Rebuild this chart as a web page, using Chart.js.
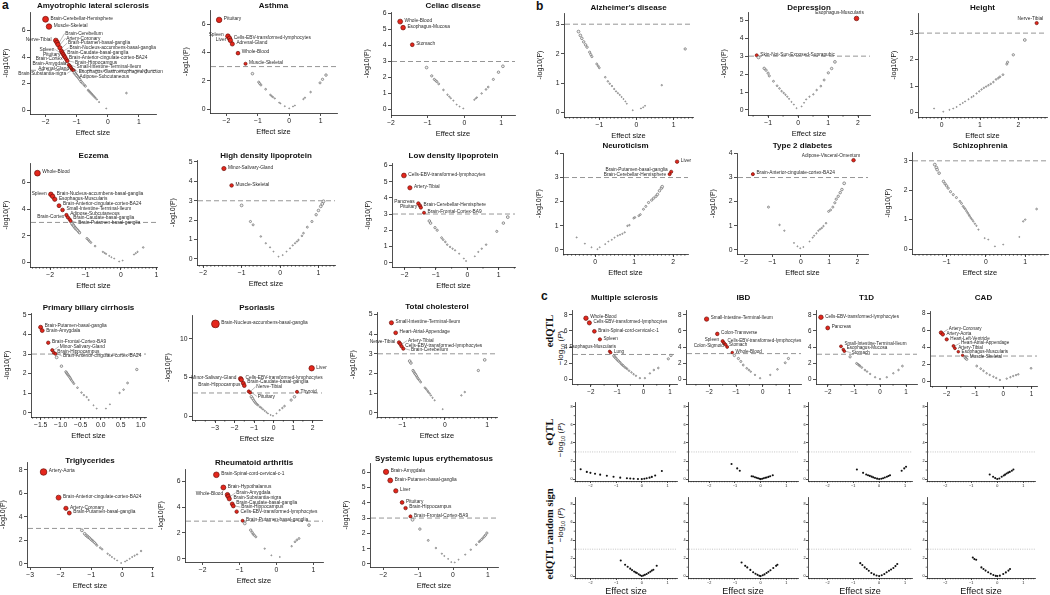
<!DOCTYPE html>
<html>
<head>
<meta charset="utf-8">
<title>Volcano plots</title>
<script src="https://cdn.jsdelivr.net/npm/chart.js@4.4.1/dist/chart.umd.min.js"></script>
<style>
  html, body { margin: 0; padding: 0; background: #fff; }
  body { position: relative; width: 1050px; height: 595px; overflow: hidden; font-family: "Liberation Sans", Arial, sans-serif; color: #111; }
  canvas { position: absolute; }
  .tag { position: absolute; font-weight: bold; font-size: 12px; }
  .rot { position: absolute; white-space: nowrap; transform: translate(-50%, -50%) rotate(-90deg); }
  .row { font-family: "Liberation Serif", "DejaVu Serif", serif; font-weight: bold; font-size: 10.5px; }
  .lg { font-size: 8px; }
  .lg sub { font-size: 5.5px; }
</style>
</head>
<body>
<div class="tag" style="left:2px;top:-2px">a</div>
<div class="tag" style="left:536px;top:-1px">b</div>
<div class="tag" style="left:541px;top:289px">c</div>
<div class="rot row" style="left:549px;top:331px">edQTL</div>
<div class="rot lg" style="left:561px;top:348px">−log<sub>10</sub> (<i>P</i>)</div>
<div class="rot row" style="left:549px;top:432px">eQTL</div>
<div class="rot lg" style="left:561px;top:440px">−log<sub>10</sub> (<i>P</i>)</div>
<div class="rot row" style="left:549px;top:534px">edQTL random sign</div>
<div class="rot lg" style="left:561px;top:525px">−log<sub>10</sub> (<i>P</i>)</div>
<script>
// ---- tick values and titles ----
var xTicksInt = [-3, -2, -1, 0, 1, 2];
var xTicksHalf = [-1.5, -1, -0.5, 0, 0.5, 1];
var yTicks1 = [0, 1, 2, 3, 4, 5, 6];
var yTicks2 = [0, 2, 4, 6, 8];
var yTicks5 = [0, 5, 10];

var titlesA = ["Amyotrophic lateral sclerosis", "Asthma", "Celiac disease", "Eczema",
  "High density lipoprotein", "Low density lipoprotein", "Primary biliary cirrhosis",
  "Psoriasis", "Total cholesterol", "Triglycerides", "Rheumatoid arthritis",
  "Systemic lupus erythematosus"];
var titlesB = ["Alzheimer's disease", "Depression", "Height", "Neuroticism", "Type 2 diabetes", "Schizophrenia"];
var titlesC = ["Multiple sclerosis", "IBD", "T1D", "CAD"];

// ---- panel a ----
var alsHits = [[-2.0, 6.85, "Brain-Cerebellar-Hemisphere"], [-1.89, 6.3, "Muscle-Skeletal"],
  [-1.67, 5.25, "Nerve-Tibial"], [-1.63, 5.1, "Brain-Cerebellum"], [-1.6, 4.95, "Artery-Coronary"],
  [-1.54, 4.7, "Brain-Putamen-basal-ganglia"], [-1.49, 4.45, "Brain-Nucleus-accumbens-basal-ganglia"],
  [-1.46, 4.32, "Spleen"], [-1.43, 4.2, "Brain-Caudate-basal-ganglia"], [-1.4, 4.08, "Pituitary"],
  [-1.37, 3.97, "Brain-Anterior-cingulate-cortex-BA24"], [-1.33, 3.82, "Brain-Cortex"],
  [-1.3, 3.7, "Brain-Hippocampus"], [-1.25, 3.4, "Small-Intestine-Terminal-Ileum"],
  [-1.21, 3.3, "Brain-Amygdala"], [-1.18, 3.18, "Esophagus-Gastroesophageal-Junction"],
  [-1.15, 3.08, "Adipose-Subcutaneous"], [-1.13, 3.02, "Adrenal-Gland"], [-1.1, 3.0, "Brain-Substantia-nigra"]];
var alsRest = [[-1.07, 2.8], [-1.03, 2.7], [-1.0, 2.6], [-0.96, 2.5], [-0.93, 2.4], [-0.9, 2.3], [-0.86, 2.15],
  [-0.82, 2.05], [-0.76, 1.9], [-0.72, 1.8], [-0.63, 1.5], [-0.6, 1.42], [-0.57, 1.35], [-0.54, 1.27],
  [-0.51, 1.2], [-0.48, 1.12], [-0.45, 1.05], [-0.42, 0.97], [-0.39, 0.9], [-0.35, 0.8], [-0.28, 0.6],
  [-0.05, 0.12], [0.6, 1.28], [1.22, 2.9]];

var asthmaHits = [[-2.23, 6.3, "Pituitary"], [-1.95, 5.15, "Spleen"], [-1.9, 5.0, "Cells-EBV-transformed-lymphocytes"],
  [-1.87, 4.85, "Liver"], [-1.81, 4.6, "Adrenal-Gland"], [-1.63, 3.95, "Whole-Blood"], [-1.39, 3.2, "Muscle-Skeletal"]];
var asthmaRest = [[-1.17, 2.5], [-0.97, 1.9], [-0.94, 1.8], [-0.9, 1.7], [-0.75, 1.4], [-0.6, 1.0], [-0.56, 0.92],
  [-0.52, 0.85], [-0.46, 0.75], [-0.32, 0.45], [-0.28, 0.4], [-0.14, 0.2], [0.0, 0.05], [0.12, 0.18], [0.18, 0.25],
  [0.45, 0.7], [0.5, 0.8], [0.68, 1.2], [0.98, 1.85], [1.06, 2.1], [1.17, 2.4]];

var celiacHits = [[-1.75, 5.5, "Whole-Blood"], [-1.67, 5.12, "Esophagus-Mucosa"], [-1.42, 4.05, "Stomach"]];
var celiacRest = [[-1.03, 2.62], [-0.89, 2.1], [-0.82, 1.88], [-0.78, 1.8], [-0.75, 1.74], [-0.7, 1.6], [-0.57, 1.22],
  [-0.46, 0.92], [-0.41, 0.8], [-0.37, 0.7], [-0.3, 0.55], [-0.21, 0.3], [-0.13, 0.18], [-0.03, 0.06], [0.27, 0.6],
  [0.31, 0.68], [0.34, 0.75], [0.47, 1.0], [0.59, 1.25], [0.65, 1.4], [0.79, 1.88], [0.93, 2.33], [1.05, 2.7]];

var eczemaHits = [[-2.36, 6.68, "Whole-Blood"], [-1.98, 5.1, "Spleen"], [-1.93, 4.95, "Brain-Nucleus-accumbens-basal-ganglia"],
  [-1.87, 4.73, "Esophagus-Muscularis"], [-1.75, 4.25, "Brain-Anterior-cingulate-cortex-BA24"],
  [-1.65, 3.93, "Small-Intestine-Terminal-Ileum"], [-1.54, 3.55, "Adipose-Subcutaneous"], [-1.5, 3.38, "Brain-Cortex"],
  [-1.45, 3.23, "Brain-Caudate-basal-ganglia"], [-1.42, 3.1, "Brain-Putamen-basal-ganglia"]];
var eczemaRest = [[-1.38, 2.9], [-1.35, 2.8], [-1.33, 2.72], [-1.3, 2.62], [-1.28, 2.55], [-1.25, 2.48], [-1.22, 2.4],
  [-1.19, 2.3], [-1.17, 2.23], [-0.96, 1.8], [-0.92, 1.7], [-0.89, 1.6], [-0.85, 1.5], [-0.73, 1.23], [-0.51, 0.8],
  [-0.46, 0.72], [-0.42, 0.65], [-0.33, 0.5], [-0.27, 0.4], [-0.19, 0.3], [-0.05, 0.08], [0.05, 0.15], [0.37, 0.6],
  [0.42, 0.7], [0.47, 0.8], [0.63, 1.13]];

var hdlHits = [[-1.46, 4.66, "Minor-Salivary-Gland"], [-1.26, 3.79, "Muscle-Skeletal"]];
var hdlRest = [[-1.0, 2.76], [-0.77, 1.93], [-0.7, 1.76], [-0.5, 1.16], [-0.37, 0.81], [-0.26, 0.6], [-0.17, 0.38],
  [-0.04, 0.12], [0.07, 0.2], [0.17, 0.38], [0.26, 0.55], [0.33, 0.7], [0.39, 0.81], [0.44, 0.9], [0.48, 0.98],
  [0.57, 1.19], [0.61, 1.33], [0.71, 1.64], [0.83, 1.93], [0.94, 2.28], [1.0, 2.5], [1.06, 2.71], [1.1, 2.84], [1.13, 2.97]];

var ldlHits = [[-2.02, 5.38, "Cells-EBV-transformed-lymphocytes"], [-1.83, 4.62, "Artery-Tibial"], [-1.56, 3.65, "Pancreas"],
  [-1.51, 3.52, "Brain-Cerebellar-Hemisphere"], [-1.48, 3.4, "Pituitary"], [-1.38, 3.08, "Brain-Frontal-Cortex-BA9"]];
var ldlRest = [[-1.21, 2.57], [-1.17, 2.44], [-1.03, 2.16], [-0.96, 2.0], [-0.82, 1.54], [-0.77, 1.42], [-0.7, 1.28],
  [-0.64, 1.11], [-0.55, 0.97], [-0.47, 0.86], [-0.39, 0.76], [-0.26, 0.55], [-0.11, 0.25], [-0.04, 0.1], [0.24, 0.39],
  [0.35, 0.66], [0.46, 0.86], [0.6, 1.11], [0.94, 1.93], [1.15, 2.44], [1.29, 2.81]];

var pbcHits = [[-1.5, 4.37, "Brain-Putamen-basal-ganglia"], [-1.46, 4.2, "Brain-Amygdala"], [-1.31, 3.58, "Brain-Frontal-Cortex-BA9"],
  [-1.21, 3.2, "Minor-Salivary-Gland"], [-1.17, 3.07, "Brain-Hippocampus"], [-1.13, 3.01, "Brain-Anterior-cingulate-cortex-BA24"]];
var pbcRest = [[-1.1, 2.83], [-0.98, 2.38], [-0.87, 2.09], [-0.85, 2.03], [-0.83, 1.97], [-0.81, 1.92], [-0.79, 1.86],
  [-0.77, 1.8], [-0.75, 1.73], [-0.73, 1.66], [-0.7, 1.58], [-0.67, 1.49], [-0.58, 1.28], [-0.48, 1.03], [-0.42, 0.9],
  [-0.35, 0.8], [-0.3, 0.65], [-0.18, 0.38], [-0.1, 0.21], [0.13, 0.21], [0.23, 0.43], [0.47, 1.01], [0.57, 1.18],
  [0.67, 1.52], [0.9, 2.21]];

var psoHits = [[-2.98, 11.95, "Brain-Nucleus-accumbens-basal-ganglia"], [-1.69, 4.85, "Minor-Salivary-Gland"],
  [-1.65, 4.7, "Cells-EBV-transformed-lymphocytes"], [-1.55, 4.25, "Brain-Caudate-basal-ganglia"],
  [-1.5, 3.95, "Brain-Hippocampus"], [-1.27, 3.2, "Nerve-Tibial"], [-1.2, 3.05, "Pituitary"],
  [1.95, 6.2, "Liver"], [1.2, 3.15, "Thyroid"]];
var psoRest = [[-1.14, 2.51], [-1.08, 2.3], [-1.02, 2.05], [-0.97, 1.86], [-0.92, 1.7], [-0.86, 1.55], [-0.8, 1.43],
  [-0.7, 1.2], [-0.62, 1.05], [-0.54, 0.87], [-0.45, 0.68], [-0.36, 0.5], [-0.29, 0.35], [-0.15, 0.15], [-0.03, 0.04],
  [0.15, 0.35], [0.31, 0.78], [0.45, 1.05], [0.56, 1.3], [0.9, 2.08], [1.07, 2.51]];

var tcHits = [[-1.26, 4.58, "Small-Intestine-Terminal-Ileum"], [-1.16, 4.07, "Heart-Atrial-Appendage"],
  [-1.08, 3.58, "Nerve-Tibial"], [-1.05, 3.5, "Artery-Tibial"], [-1.02, 3.38, "Cells-EBV-transformed-lymphocytes"],
  [-0.98, 3.26, "Brain-Cerebellum"]];
var tcRest = [[-0.83, 2.63], [-0.8, 2.53], [-0.75, 2.15], [-0.73, 2.08], [-0.71, 2.0], [-0.69, 1.95], [-0.67, 1.88],
  [-0.65, 1.8], [-0.63, 1.73], [-0.6, 1.65], [-0.57, 1.56], [-0.47, 1.27], [-0.44, 1.2], [-0.41, 1.12], [-0.39, 1.05],
  [-0.36, 0.98], [-0.33, 0.88], [-0.29, 0.76], [-0.24, 0.63], [-0.05, 0.18], [0.39, 0.88], [0.47, 1.05], [0.79, 2.15], [0.94, 2.69]];

var trigHits = [[-2.56, 7.8, "Artery-Aorta"], [-2.07, 5.62, "Brain-Anterior-cingulate-cortex-BA24"],
  [-1.83, 4.71, "Artery-Coronary"], [-1.72, 4.31, "Brain-Putamen-basal-ganglia"]];
var trigRest = [[-1.31, 2.84], [-1.22, 2.55], [-1.17, 2.41], [-1.13, 2.33], [-1.1, 2.25], [-1.06, 2.18], [-1.02, 2.08],
  [-0.98, 1.99], [-0.94, 1.9], [-0.9, 1.8], [-0.86, 1.7], [-0.82, 1.56], [-0.71, 1.36], [-0.65, 1.23], [-0.47, 0.85],
  [-0.4, 0.72], [-0.33, 0.57], [-0.25, 0.42], [-0.16, 0.28], [-0.03, 0.06], [0.1, 0.18], [0.16, 0.28], [0.25, 0.42],
  [0.33, 0.57], [0.41, 0.68], [0.49, 0.79], [0.62, 1.08]];

var raHits = [[-1.63, 6.53, "Brain-Spinal-cord-cervical-c-1"], [-1.44, 5.54, "Brain-Hypothalamus"], [-1.33, 4.98, "Whole-Blood"],
  [-1.31, 4.85, "Brain-Amygdala"], [-1.28, 4.66, "Brain-Substantia-nigra"], [-1.2, 4.26, "Brain-Caudate-basal-ganglia"],
  [-1.17, 4.1, "Brain-Hippocampus"], [-1.08, 3.66, "Cells-EBV-transformed-lymphocytes"], [-0.92, 2.95, "Brain-Putamen-basal-ganglia"]];
var raRest = [[-0.86, 2.74], [-0.7, 2.22], [-0.66, 2.05], [-0.63, 1.91], [-0.6, 1.82], [-0.56, 1.7], [-0.32, 0.78],
  [-0.14, 0.26], [0.09, 0.13], [0.41, 0.97], [0.5, 1.31], [0.55, 1.45], [0.61, 1.57], [0.88, 2.61]];

var sleHits = [[-1.92, 6.02, "Brain-Amygdala"], [-1.8, 5.46, "Brain-Putamen-basal-ganglia"], [-1.64, 4.78, "Liver"],
  [-1.46, 4.02, "Pituitary"], [-1.36, 3.65, "Brain-Hippocampus"], [-1.22, 3.11, "Brain-Frontal-Cortex-BA9"]];
var sleRest = [[-1.16, 2.89], [-0.95, 2.28], [-0.71, 1.54], [-0.49, 1.04], [-0.32, 0.67], [-0.25, 0.52], [-0.14, 0.33],
  [-0.05, 0.12], [0.05, 0.1], [0.16, 0.28], [0.35, 0.61], [0.51, 0.93], [0.67, 1.26], [0.75, 1.45], [0.78, 1.52],
  [0.82, 1.6], [0.86, 1.7], [0.9, 1.8], [0.93, 1.88], [0.97, 2.02]];

// ---- panel b ----
var alzRest = [[-1.56, 2.75], [-1.51, 2.62], [-1.47, 2.52], [-1.42, 2.4], [-1.37, 2.3], [-1.33, 2.22], [-1.26, 2.05],
  [-1.23, 1.97], [-1.2, 1.9], [-1.07, 1.65], [-1.03, 1.58], [-1.0, 1.52], [-0.84, 1.2], [-0.77, 1.06], [-0.72, 0.98],
  [-0.66, 0.9], [-0.6, 0.8], [-0.55, 0.72], [-0.5, 0.66], [-0.45, 0.6], [-0.4, 0.53], [-0.35, 0.46], [-0.3, 0.38],
  [-0.26, 0.3], [-0.1, 0.08], [0.12, 0.14], [0.18, 0.18], [0.23, 0.23], [0.68, 0.93], [1.31, 2.16]];

var depHits = [[-1.38, 3.05, "Skin-Not-Sun-Exposed-Suprapubic"], [1.95, 5.1, "Esophagus-Muscularis"]];
var depRest = [[-1.32, 2.93], [-1.13, 2.32], [-1.07, 2.22], [-1.0, 2.05], [-0.96, 1.9], [-0.82, 1.6], [-0.7, 1.35],
  [-0.62, 1.2], [-0.55, 1.05], [-0.48, 0.95], [-0.42, 0.85], [-0.36, 0.74], [-0.3, 0.62], [-0.22, 0.45], [-0.14, 0.3],
  [-0.05, 0.1], [0.12, 0.2], [0.2, 0.4], [0.27, 0.59], [0.38, 0.74], [0.51, 0.87], [0.62, 1.11], [0.76, 1.33],
  [0.87, 1.67], [1.01, 2.07], [1.12, 2.31], [1.23, 2.68]];

var heightHits = [[2.48, 3.38, "Nerve-Tibial"]];
var heightRest = [[-0.2, 0.15], [0.04, 0.03], [0.2, 0.1], [0.3, 0.15], [0.39, 0.21], [0.48, 0.3], [0.55, 0.36],
  [0.61, 0.42], [0.7, 0.5], [0.78, 0.58], [0.83, 0.62], [0.91, 0.72], [0.98, 0.8], [1.04, 0.87], [1.1, 0.93],
  [1.16, 0.98], [1.22, 1.03], [1.28, 1.08], [1.35, 1.15], [1.42, 1.25], [1.48, 1.3], [1.52, 1.35], [1.6, 1.43],
  [1.7, 1.83], [1.72, 1.9], [1.87, 2.18], [2.17, 2.74]];

var neuroHits = [[2.1, 3.66, "Liver"], [1.95, 3.24, "Brain-Putamen-basal-ganglia"], [1.91, 3.14, "Brain-Cerebellar-Hemisphere"]];
var neuroRest = [[-0.47, 0.51], [-0.26, 0.25], [-0.09, 0.1], [0.06, 0.02], [0.12, 0.1], [0.26, 0.23], [0.34, 0.34],
  [0.43, 0.41], [0.5, 0.5], [0.58, 0.58], [0.64, 0.62], [0.7, 0.66], [0.76, 0.72], [0.83, 0.99], [0.88, 1.02],
  [0.99, 1.31], [1.02, 1.34], [1.12, 1.41], [1.16, 1.46], [1.24, 1.68], [1.3, 1.8], [1.37, 1.96], [1.45, 2.06],
  [1.5, 2.14], [1.56, 2.22], [1.6, 2.3], [1.65, 2.45], [1.7, 2.56], [1.72, 2.62]];

var t2dHits = [[-1.69, 3.14, "Brain-Anterior-cingulate-cortex-BA24"], [1.86, 3.72, "Adipose-Visceral-Omentum"]];
var t2dRest = [[-1.14, 1.77], [-0.75, 1.03], [-0.58, 0.79], [-0.24, 0.28], [-0.12, 0.14], [-0.02, 0.06], [0.09, 0.11],
  [0.31, 0.34], [0.42, 0.5], [0.47, 0.58], [0.55, 0.68], [0.62, 0.79], [0.68, 0.85], [0.74, 0.9], [0.8, 0.98],
  [0.89, 1.1], [0.98, 1.59], [1.05, 1.65], [1.13, 1.77], [1.2, 1.95], [1.25, 2.1], [1.32, 2.22], [1.39, 2.37],
  [1.45, 2.5], [1.53, 2.76]];

var sczRest = [[-1.3, 2.87], [-1.26, 2.77], [-1.24, 2.7], [-1.19, 2.58], [-1.08, 2.3], [-1.04, 2.22], [-1.0, 2.15],
  [-0.96, 2.07], [-0.9, 1.95], [-0.83, 1.85], [-0.75, 1.75], [-0.66, 1.62], [-0.62, 1.55], [-0.58, 1.45],
  [-0.55, 1.4], [-0.52, 1.35], [-0.49, 1.28], [-0.46, 1.22], [-0.43, 1.16], [-0.41, 1.11], [-0.38, 1.05],
  [-0.35, 1.0], [-0.32, 0.94], [-0.28, 0.86], [-0.24, 0.79], [-0.19, 0.66], [-0.03, 0.37], [0.06, 0.32],
  [0.23, 0.09], [0.44, 0.15], [0.85, 0.41], [0.95, 0.94], [1.0, 1.0], [1.29, 1.36]];

// ---- panel c, edQTL ----
var msHits = [[-2.19, 7.58, "Whole-Blood"], [-2.06, 7.0, "Cells-EBV-transformed-lymphocytes"],
  [-1.87, 5.95, "Brain-Spinal-cord-cervical-c-1"], [-1.66, 4.95, "Spleen"], [-1.29, 3.45, "Esophagus-Muscularis"], [-1.25, 3.3, "Lung"]];
var msRest = [[-1.13, 2.9], [-1.09, 2.74], [-1.05, 2.6], [-1.0, 2.4], [-0.95, 2.25], [-0.9, 2.1], [-0.85, 1.9],
  [-0.8, 1.75], [-0.77, 1.68], [-0.72, 1.5], [-0.67, 1.4], [-0.62, 1.26], [-0.55, 1.05], [-0.46, 0.84], [-0.38, 0.62],
  [-0.29, 0.42], [-0.14, 0.13], [0.05, 0.13], [0.24, 0.72], [0.39, 1.14], [0.56, 1.39], [0.94, 2.53], [1.04, 2.95]];

var ibdHits = [[-2.1, 7.47, "Small-Intestine-Terminal-Ileum"], [-1.7, 5.63, "Colon-Transverse"], [-1.5, 4.73, "Spleen"],
  [-1.45, 4.49, "Cells-EBV-transformed-lymphocytes"], [-1.39, 4.29, "Stomach"], [-1.33, 4.0, "Colon-Sigmoid"],
  [-1.14, 3.31, "Whole-Blood"]];
var ibdRest = [[-1.06, 2.95], [-0.91, 2.57], [-0.82, 2.2], [-0.73, 1.76], [-0.6, 1.35], [-0.52, 1.15], [-0.45, 0.94],
  [-0.29, 0.53], [-0.1, 0.12], [0.28, 0.53], [0.55, 1.22], [0.84, 2.04], [0.96, 2.57]];

var t1dHits = [[-2.27, 7.7, "Cells-EBV-transformed-lymphocytes"], [-2.01, 6.37, "Pancreas"],
  [-1.5, 4.08, "Small-Intestine-Terminal-Ileum"], [-1.41, 3.67, "Esophagus-Mucosa"], [-1.37, 3.47, "Stomach"]];
var t1dRest = [[-1.15, 2.78], [-0.9, 1.96], [-0.85, 1.85], [-0.8, 1.72], [-0.77, 1.63], [-0.7, 1.45], [-0.58, 1.14],
  [-0.5, 0.95], [-0.38, 0.65], [-0.19, 0.24], [0.0, 0.02], [0.26, 0.24], [0.51, 0.73], [0.71, 1.14], [0.86, 1.63]];

var cadHits = [[-2.2, 5.71, "Artery-Coronary"], [-2.14, 5.51, "Artery-Aorta"], [-2.0, 4.92, "Heart-Left-Ventricle"],
  [-1.76, 4.13, "Heart-Atrial-Appendage"], [-1.71, 3.86, "Artery-Tibial"], [-1.59, 3.46, "Esophagus-Muscularis"],
  [-1.44, 3.03, "Muscle-Skeletal"]];
var cadRest = [[-1.35, 2.76], [-1.32, 2.65], [-1.29, 2.56], [-0.94, 1.77], [-0.8, 1.46], [-0.7, 1.2], [-0.59, 0.91],
  [-0.48, 0.72], [-0.35, 0.51], [-0.25, 0.35], [-0.12, 0.12], [0.12, 0.28], [0.25, 0.45], [0.35, 0.59], [0.45, 0.7],
  [0.53, 0.79], [0.98, 1.5]];

// ---- panel c, eQTL ----
var eqMS = [[-2.38, 1.1], [-2.14, 0.8], [-2.0, 0.7], [-1.82, 0.6], [-1.62, 0.5], [-1.36, 0.38], [-1.1, 0.26],
  [-0.84, 0.17], [-0.58, 0.1], [-0.45, 0.07], [-0.32, 0.05], [-0.15, 0.02], [0, 0.01], [0.1, 0.05], [0.19, 0.1],
  [0.3, 0.17], [0.39, 0.25], [0.52, 0.4], [0.78, 0.9]];
var eqIBD = [[-1.13, 1.67], [-0.91, 1.19], [-0.81, 0.93], [-0.35, 0.33], [-0.29, 0.3], [-0.22, 0.22], [-0.16, 0.16],
  [-0.1, 0.1], [-0.04, 0.04], [0, 0.01], [0.06, 0.05], [0.12, 0.1], [0.18, 0.15], [0.23, 0.19], [0.3, 0.25],
  [0.37, 0.33], [0.47, 0.44]];
var eqT1D = [[-0.86, 1.07], [-0.62, 0.7], [-0.5, 0.52], [-0.43, 0.44], [-0.36, 0.36], [-0.29, 0.28], [-0.23, 0.2],
  [-0.16, 0.13], [-0.08, 0.06], [0, 0.01], [0.08, 0.05], [0.15, 0.1], [0.22, 0.19], [0.3, 0.27], [0.36, 0.35],
  [0.42, 0.44], [0.87, 0.93], [0.97, 1.19], [1.04, 1.37]];
var eqCAD = [[-0.29, 0.52], [-0.16, 0.26], [-0.08, 0.12], [0, 0.02], [0.08, 0.08], [0.17, 0.26], [0.25, 0.4],
  [0.3, 0.5], [0.36, 0.63], [0.42, 0.72], [0.48, 0.8], [0.56, 0.93], [0.62, 1.07]];

// ---- panel c, edQTL random sign ----
var rsMS = [[-0.82, 1.75], [-0.65, 1.27], [-0.55, 1.05], [-0.45, 0.84], [-0.38, 0.68], [-0.3, 0.52], [-0.24, 0.42],
  [-0.19, 0.36], [-0.12, 0.22], [-0.06, 0.1], [0, 0.02], [0.06, 0.08], [0.12, 0.15], [0.19, 0.25], [0.26, 0.37],
  [0.33, 0.5], [0.39, 0.62], [0.45, 0.72], [0.58, 1.16]];
var rsIBD = [[-0.74, 1.53], [-0.6, 1.15], [-0.52, 0.98], [-0.4, 0.7], [-0.29, 0.44], [-0.2, 0.28], [-0.12, 0.15],
  [-0.05, 0.05], [0, 0.01], [0.08, 0.1], [0.15, 0.2], [0.23, 0.36], [0.3, 0.5], [0.38, 0.66], [0.49, 0.91],
  [0.6, 1.15], [0.65, 1.27]];
var rsT1D = [[-0.73, 1.45], [-0.65, 1.25], [-0.56, 0.98], [-0.48, 0.8], [-0.4, 0.6], [-0.3, 0.36], [-0.2, 0.2],
  [-0.1, 0.08], [0, 0.01], [0.1, 0.1], [0.2, 0.25], [0.29, 0.44], [0.38, 0.6], [0.46, 0.75], [0.55, 0.91],
  [0.63, 1.12], [0.7, 1.35]];
var rsCAD = [[-0.94, 2.07], [-0.88, 1.9], [-0.81, 1.82], [-0.61, 0.98], [-0.53, 0.8], [-0.45, 0.62], [-0.35, 0.44],
  [-0.25, 0.28], [-0.15, 0.14], [-0.06, 0.04], [0, 0.01], [0.1, 0.06], [0.23, 0.25], [0.33, 0.42], [0.43, 0.62], [0.49, 0.8]];

// ---- layout of every small plot ----
var panels = [
  {t: titlesA[0], ty: 5.5, box: [30, 12, 156, 114], x: [-2.5, 1.55], y: [-0.3, 7.4], xt: xTicksInt, yt: yTicks2, rest: alsRest, hits: alsHits,
    left: ["Nerve-Tibial", "Spleen", "Pituitary", "Brain-Cortex", "Brain-Amygdala", "Adrenal-Gland", "Brain-Substantia-nigra"]},
  {t: titlesA[1], ty: 5.5, box: [210, 10, 337, 113], x: [-2.52, 1.52], y: [-0.28, 7.0], xt: xTicksInt, yt: yTicks2, rest: asthmaRest, hits: asthmaHits, left: ["Spleen", "Liver"]},
  {t: titlesA[2], ty: 5.5, box: [391, 12, 515, 115], x: [-2.0, 1.38], y: [-0.35, 6.1], xt: xTicksInt, yt: yTicks1, rest: celiacRest, hits: celiacHits},
  {t: titlesB[0], ty: 8, box: [564, 13, 693, 117], x: [-1.95, 1.52], y: [-0.15, 3.38], xt: xTicksInt, yt: yTicks1, minor: 0.1, rest: alzRest, hits: []},
  {t: titlesB[1], ty: 8, box: [748, 12, 870, 115], x: [-1.67, 2.4], y: [-0.28, 5.46], xt: xTicksInt, yt: yTicks1, minor: 0.5, rest: depRest, hits: depHits, above: ["Esophagus-Muscularis"]},
  {t: titlesB[2], ty: 8, box: [918, 13, 1047, 117], x: [-0.62, 2.75], y: [-0.17, 3.76], xt: xTicksInt, yt: yTicks1, minor: 0.1, rest: heightRest, hits: heightHits, above: ["Nerve-Tibial"]},
  {t: titlesA[3], ty: 156, box: [30, 163, 157, 267], x: [-2.57, 1.02], y: [-0.33, 7.44], xt: xTicksInt, yt: yTicks2, minor: 0.1, rest: eczemaRest, hits: eczemaHits, left: ["Spleen", "Brain-Cortex"]},
  {t: titlesA[4], ty: 156, box: [197, 160, 335, 265], x: [-2.16, 1.43], y: [-0.31, 5.1], xt: xTicksInt, yt: yTicks1, minor: 0.1, rest: hdlRest, hits: hdlHits},
  {t: titlesA[5], ty: 156, box: [392, 163, 515, 267], x: [-2.4, 1.52], y: [-0.27, 6.15], xt: xTicksInt, yt: yTicks1, minor: 0.5, rest: ldlRest, hits: ldlHits, left: ["Pancreas", "Pituitary"]},
  {t: titlesB[3], ty: 146, box: [563, 153, 688, 254], x: [-0.82, 2.38], y: [-0.18, 4.02], xt: xTicksInt, yt: yTicks1, minor: 0.1, rest: neuroRest, hits: neuroHits,
    left: ["Brain-Putamen-basal-ganglia", "Brain-Cerebellar-Hemisphere"]},
  {t: titlesB[4], ty: 146, box: [737, 153, 868, 254], x: [-2.25, 2.37], y: [-0.18, 4.02], xt: xTicksInt, yt: yTicks1, rest: t2dRest, hits: t2dHits, above: ["Adipose-Visceral-Omentum"]},
  {t: titlesB[5], ty: 146, box: [912, 152, 1048, 254], x: [-1.88, 1.58], y: [-0.17, 3.3], xt: xTicksInt, yt: yTicks1, minor: 0.1, rest: sczRest, hits: []},
  {t: titlesA[6], ty: 308, box: [31, 313, 146, 417], x: [-1.74, 1.13], y: [-0.22, 5.1], xt: xTicksHalf, xdec: true, yt: yTicks1, minor: 0.1, rest: pbcRest, hits: pbcHits},
  {t: titlesA[7], ty: 307.5, box: [192, 315, 322, 420], x: [-4.18, 2.48], y: [-0.5, 13.1], xt: xTicksInt, yt: yTicks5, minor: 0.5, rest: psoRest, hits: psoHits,
    left: ["Minor-Salivary-Gland", "Brain-Hippocampus"]},
  {t: titlesA[8], ty: 306.5, box: [377, 312, 497, 417], x: [-1.6, 1.23], y: [-0.22, 5.13], xt: xTicksInt, yt: yTicks1, minor: 0.1, rest: tcRest, hits: tcHits, left: ["Nerve-Tibial"]},
  {t: titlesA[9], ty: 460.5, box: [27, 462, 153, 567], x: [-3.1, 1.01], y: [-0.28, 8.65], xt: xTicksInt, yt: yTicks2, rest: trigRest, hits: trigHits},
  {t: titlesA[10], ty: 462.5, box: [185, 469, 323, 562], x: [-2.48, 1.26], y: [-0.26, 6.98], xt: xTicksInt, yt: yTicks2, thr: 2.92, rest: raRest, hits: raHits, left: ["Whole-Blood"]},
  {t: titlesA[11], ty: 458.5, box: [370, 463, 498, 567], x: [-2.38, 1.29], y: [-0.2, 6.6], xt: xTicksInt, yt: yTicks1, rest: sleRest, hits: sleHits},

  {kind: "c1", t: titlesC[0], ty: 298, box: [572, 310, 677, 384], x: [-2.72, 1.27], y: [-0.6, 8.6], xt: xTicksInt, yt: yTicks2, minor: 0.5, thr: 3.07, rest: msRest, hits: msHits, above: ["Esophagus-Muscularis"]},
  {kind: "c1", t: titlesC[1], ty: 298, box: [686, 310, 801, 384], x: [-2.87, 1.43], y: [-0.6, 8.6], xt: xTicksInt, yt: yTicks2, minor: 0.5, thr: 3.18, rest: ibdRest, hits: ibdHits, left: ["Spleen", "Colon-Sigmoid"]},
  {kind: "c1", t: titlesC[2], ty: 298, box: [816, 310, 917, 384], x: [-2.46, 1.42], y: [-0.6, 8.6], xt: xTicksInt, yt: yTicks2, minor: 0.5, thr: 3.1, rest: t1dRest, hits: t1dHits},
  {kind: "c1", t: titlesC[3], ty: 298, box: [930, 311, 1037, 386], x: [-2.59, 1.19], y: [-0.59, 8.27], xt: xTicksInt, yt: yTicks2, minor: 0.5, thr: 2.95, rest: cadRest, hits: cadHits},

  {kind: "c2", box: [575, 402, 677, 481], x: [-2.6, 1.37], y: [-0.2, 8.5], xt: xTicksInt, yt: yTicks2, minor: 0.1, rest: eqMS},
  {kind: "c2", box: [688, 402, 798, 481], x: [-2.82, 1.45], y: [-0.2, 8.5], xt: xTicksInt, yt: yTicks2, minor: 0.1, rest: eqIBD},
  {kind: "c2", box: [808, 402, 912, 481], x: [-2.75, 1.27], y: [-0.2, 8.5], xt: xTicksInt, yt: yTicks2, minor: 0.1, rest: eqT1D},
  {kind: "c2", box: [927, 402, 1035, 481], x: [-2.7, 1.45], y: [-0.2, 8.5], xt: xTicksInt, yt: yTicks2, minor: 0.1, rest: eqCAD},

  {kind: "c2", xlab: true, box: [575, 497, 677, 578], x: [-2.6, 1.37], y: [-0.2, 8.8], xt: xTicksInt, yt: yTicks2, minor: 0.1, rest: rsMS},
  {kind: "c2", xlab: true, box: [688, 497, 798, 578], x: [-2.82, 1.45], y: [-0.2, 8.8], xt: xTicksInt, yt: yTicks2, minor: 0.1, rest: rsIBD},
  {kind: "c2", xlab: true, box: [808, 497, 912, 578], x: [-2.75, 1.27], y: [-0.2, 8.8], xt: xTicksInt, yt: yTicks2, minor: 0.1, rest: rsT1D},
  {kind: "c2", xlab: true, box: [927, 497, 1035, 578], x: [-2.7, 1.45], y: [-0.2, 8.8], xt: xTicksInt, yt: yTicks2, minor: 0.1, rest: rsCAD}
];

var FONT = "'Liberation Sans', Arial, Helvetica, sans-serif";
var RED = "#e5261c", RED_EDGE = "#6e130c", GREY_EDGE = "#6a6a6a", AXIS = "#222";
Chart.defaults.font.family = FONT;

function fmt(v, dec) {
  var s = dec ? v.toFixed(1) : String(v);
  return s.replace("-", "\u2212");
}

// marker size grows with -log10(P), like the original
function radius(y, kind) {
  if (kind === "c1") return Math.max(0.7, Math.min(2.4, 0.55 + 0.22 * y));
  if (kind === "c2") return 1.05;
  return Math.max(0.5, Math.min(3.9, 0.35 + 0.38 * y));
}

// push overlapping labels apart, keeping each group centred on its points
function spread(g, gap) {
  var cl = g.map(function (o) { return {items: [o], sum: o.ly}; });
  function top(c) { return c.sum / c.items.length - (c.items.length - 1) * gap / 2; }
  var changed = true;
  while (changed) {
    changed = false;
    for (var i = 1; i < cl.length; i++) {
      var a = cl[i - 1], b = cl[i];
      if (top(a) + a.items.length * gap > top(b)) {
        a.items = a.items.concat(b.items);
        a.sum += b.sum;
        cl.splice(i, 1);
        changed = true;
        break;
      }
    }
  }
  cl.forEach(function (c) {
    var t = top(c);
    c.items.forEach(function (o, k) { o.ly = t + k * gap; });
  });
}

function decoPlugin(p, cvTop) {
  return {
    id: "deco",
    beforeDatasetsDraw: function (chart) {
      var a = chart.chartArea, ctx = chart.ctx;
      var ty = chart.scales.y.getPixelForValue(p.thr || 3);
      ctx.save();
      ctx.strokeStyle = p.kind == "c2" ? "#b5b5b5" : "#8a8a8a";
      ctx.lineWidth = p.kind == "c2" ? 0.8 : 0.9;
      ctx.setLineDash(p.kind == "c2" ? [1, 1.3] : [5, 3]);
      ctx.beginPath();
      ctx.moveTo(a.left + 1, ty);
      ctx.lineTo(a.right, ty);
      ctx.stroke();
      ctx.restore();
    },
    afterDatasetsDraw: function (chart) {
      if (!p.hits || !p.hits.length) return;
      var ctx = chart.ctx, meta = chart.getDatasetMeta(1);
      var fs = p.kind == "c1" ? 4.6 : 4.8;
      var right = [], left = [], above = [];
      meta.data.forEach(function (el, i) {
        var nm = p.hits[i][2];
        var o = {x: el.x, y: el.y, r: el.options.radius, name: nm, ly: el.y - 1};
        if ((p.left || []).indexOf(nm) >= 0) left.push(o);
        else if ((p.above || []).indexOf(nm) >= 0) above.push(o);
        else right.push(o);
      });
      ctx.save();
      ctx.font = fs + "px " + FONT;
      ctx.fillStyle = "#2a2a2a";
      ctx.strokeStyle = "#555";
      ctx.lineWidth = 0.4;
      ctx.textBaseline = "middle";
      [[right, 1], [left, -1]].forEach(function (pair) {
        var g = pair[0], s = pair[1];
        g.sort(function (u, w) { return u.ly - w.ly; });
        spread(g, fs);
        g.forEach(function (o) {
          var moved = Math.abs(o.ly - (o.y - 1)) > 2;
          var ax = o.x + s * (o.r + (moved ? 6 : 2));
          if (moved) {
            ctx.beginPath();
            ctx.moveTo(o.x + s * o.r, o.y);
            ctx.lineTo(ax - s * 0.8, o.ly);
            ctx.stroke();
          }
          ctx.textAlign = s > 0 ? "left" : "right";
          ctx.fillText(o.name, ax, o.ly);
        });
      });
      above.forEach(function (o) {
        ctx.textAlign = "right";
        ctx.fillText(o.name, o.x + o.r + 5, o.y - o.r - 3);
      });
      ctx.restore();
    },
    afterDraw: function (chart) {
      var a = chart.chartArea, ctx = chart.ctx;
      ctx.save();
      if (p.t) {
        ctx.font = "bold 8px " + FONT;
        ctx.fillStyle = "#111";
        ctx.textAlign = "center";
        ctx.textBaseline = "middle";
        ctx.fillText(p.t, (a.left + a.right) / 2, p.ty - cvTop);
      }
      // minor tick marks
      ctx.strokeStyle = AXIS;
      ctx.lineWidth = 0.6;
      ctx.beginPath();
      if (p.minor) {
        var xs = chart.scales.x;
        for (var k = Math.ceil(p.x[0] / p.minor - 1e-9); k * p.minor <= p.x[1] + 1e-9; k++) {
          var px = xs.getPixelForValue(k * p.minor);
          ctx.moveTo(px, a.bottom);
          ctx.lineTo(px, a.bottom + (p.kind == "c2" ? 1.3 : 1.8));
        }
      }
      if (p.kind == "c2") {
        var ysc = chart.scales.y;
        for (var j = 1; j <= 8; j += 2) {
          var py = ysc.getPixelForValue(j);
          ctx.moveTo(a.left, py);
          ctx.lineTo(a.left - 1.3, py);
        }
      }
      ctx.stroke();
      ctx.restore();
    }
  };
}

function makePanel(p) {
  var k = p.kind || "a";
  p.kind = k;
  var padL = k == "a" ? 28 : (k == "c1" ? 13 : 9);
  var padB = k == "a" ? 23 : (k == "c1" ? 12 : (p.xlab ? 19 : 8));
  var padR = 8;
  var L = p.box[0], T = p.box[1], R = p.box[2], B = p.box[3];
  var padT = p.t ? Math.round(T - p.ty + 7) : 6;
  var cv = document.createElement("canvas");
  cv.width = R - L + padL + padR;
  cv.height = B - T + padT + padB;
  cv.style.left = (L - padL) + "px";
  cv.style.top = (T - padT) + "px";
  document.body.appendChild(cv);

  var small = k == "c2";
  var tickFont = {family: FONT, size: small ? 3.8 : (k == "c1" ? 6.3 : 6.8)};
  var tl = small ? 2 : 3;
  var rad = function (c) { return c.raw ? radius(c.raw.y, k) : 1; };

  var datasets = [{
    data: p.rest.map(function (d) { return {x: d[0], y: d[1]}; }),
    pointRadius: rad,
    pointBackgroundColor: small ? "#111" : "#f0f0f0",
    pointBorderColor: small ? "#111" : GREY_EDGE,
    pointBorderWidth: small ? 0 : 0.7
  }, {
    data: (p.hits || []).map(function (d) { return {x: d[0], y: d[1]}; }),
    pointRadius: rad,
    pointBackgroundColor: RED,
    pointBorderColor: RED_EDGE,
    pointBorderWidth: 0.7
  }];

  try {
    return new Chart(cv, {
      type: "scatter",
      data: {datasets: datasets},
      options: {
        responsive: false,
        animation: false,
        devicePixelRatio: 1,
        events: [],
        layout: {padding: {top: padT, right: padR, left: 0, bottom: 0}},
        plugins: {legend: {display: false}, tooltip: {enabled: false}},
        scales: {
          x: {
            type: "linear", min: p.x[0], max: p.x[1],
            afterBuildTicks: function (s) {
              s.ticks = p.xt.filter(function (v) { return v >= p.x[0] && v <= p.x[1]; })
                .map(function (v) { return {value: v}; });
            },
            afterFit: function (s) { s.height = padB; },
            grid: {display: true, drawOnChartArea: false, drawTicks: true, tickLength: tl, color: AXIS, lineWidth: 0.8},
            border: {display: true, color: AXIS, width: 0.8},
            ticks: {font: tickFont, color: "#222", padding: small ? 0.5 : 1.5, autoSkip: false, maxRotation: 0,
              callback: function (v) { return fmt(v, p.xdec); }},
            title: {display: k == "a" || !!p.xlab, text: "Effect size", color: "#111", padding: 0,
              font: {family: FONT, size: k == "a" ? 7.5 : 9}}
          },
          y: {
            type: "linear", min: p.y[0], max: p.y[1],
            afterBuildTicks: function (s) {
              s.ticks = p.yt.filter(function (v) { return v >= p.y[0] && v <= p.y[1]; })
                .map(function (v) { return {value: v}; });
            },
            afterFit: function (s) { s.width = padL; },
            grid: {display: true, drawOnChartArea: false, drawTicks: true, tickLength: tl, color: AXIS, lineWidth: 0.8},
            border: {display: true, color: AXIS, width: 0.8},
            ticks: {font: tickFont, color: "#222", padding: small ? 0.5 : 1.5, autoSkip: false,
              callback: function (v) { return fmt(v, false); }},
            title: {display: k == "a", text: "-log10(P)", color: "#111", padding: 0, font: {family: FONT, size: 7}}
          }
        }
      },
      plugins: [decoPlugin(p, T - padT)]
    });
  } catch (e) {
    console.error(e);
  }
}

panels.forEach(makePanel);
</script>
</body>
</html>
